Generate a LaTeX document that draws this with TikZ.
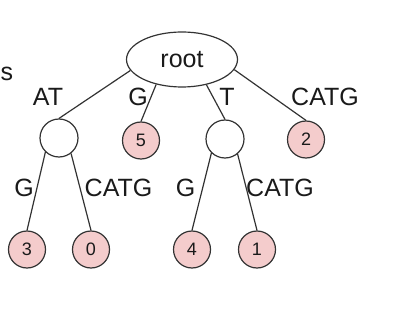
\documentclass[tikz,border=0pt]{standalone}
\usepackage{fontspec}
\setmainfont{Liberation Sans}
\usetikzlibrary{shapes.geometric}
\definecolor{leafpink}{HTML}{F4CCCC}
\definecolor{linegray}{HTML}{333333}
\definecolor{txt}{HTML}{1A1A1A}
\begin{document}
\begin{tikzpicture}[x=1pt,y=-1pt,
  edge/.style={draw=linegray,line width=1.2pt},
  inner/.style={circle,draw=linegray,line width=1.2pt,fill=white,minimum size=38pt,inner sep=0pt},
  leaf/.style={circle,draw=linegray,line width=1.2pt,fill=leafpink,minimum size=37pt,inner sep=0pt,text=txt,font=\fontsize{18}{21}\selectfont},
  lbl/.style={inner sep=0pt,text=txt,font=\fontsize{25}{29}\selectfont}]
\useasboundingbox (0,0) rectangle (406,312);
\node[ellipse,draw=linegray,line width=1.2pt,minimum width=111pt,minimum height=55pt,inner sep=0pt,text=txt,font=\fontsize{25}{29}\selectfont] (root) at (182,59.5) {root};
\node[inner] (n1) at (59,138) {};
\node[inner] (n2) at (225,139) {};
\node[leaf] (l5) at (141,140.5) {5};
\node[leaf] (l2) at (306,139.5) {2};
\node[leaf] (l3) at (27,249.5) {3};
\node[leaf] (l0) at (91,249.5) {0};
\node[leaf] (l4) at (192,249.5) {4};
\node[leaf] (l1) at (257,249.5) {1};
\draw[edge] (root.192) -- (n1.north);
\draw[edge] (root.224) -- (l5.north);
\draw[edge] (root.314) -- (n2.north);
\draw[edge] (root.349) -- (l2.north);
\draw[edge] (n1.226) -- (l3.north);
\draw[edge] (n1.308) -- (l0.north);
\draw[edge] (n2.226) -- (l4.north);
\draw[edge] (n2.310) -- (l1.north);
\node[lbl] (s) at (7,74) {s};
\node[lbl] (tAT) at (48,96.5) {AT};
\node[lbl] (tG1) at (138,96.5) {G};
\node[lbl] (tT) at (227,96.5) {T};
\node[lbl] (tC1) at (325,96.5) {CATG};
\node[lbl] (tG2) at (24,187.5) {G};
\node[lbl] (tC2) at (118.5,187.5) {CATG};
\node[lbl] (tG3) at (185.5,187.5) {G};
\node[lbl] (tC3) at (280,187.5) {CATG};
\end{tikzpicture}
\end{document}
